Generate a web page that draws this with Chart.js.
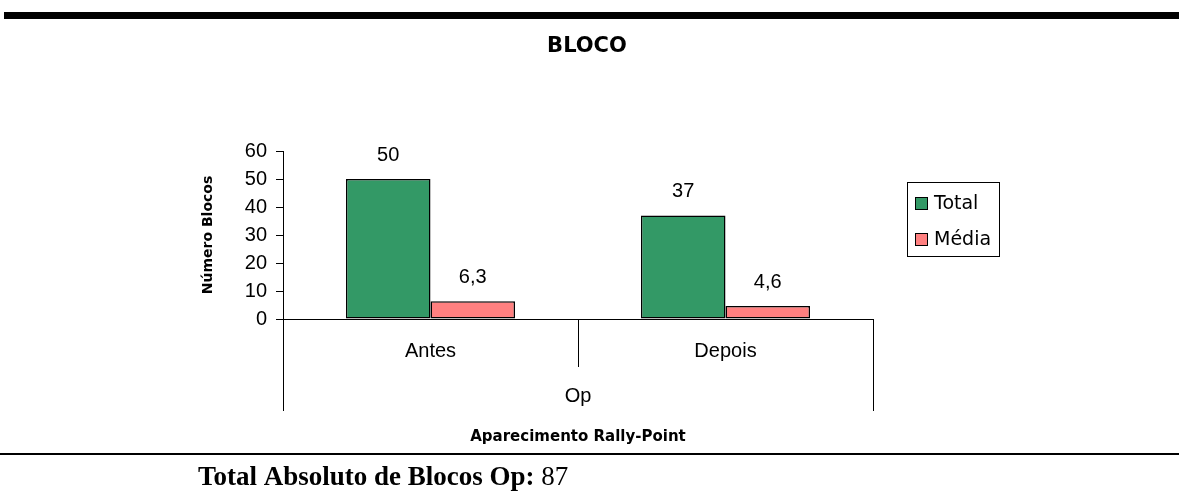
<!DOCTYPE html>
<html>
<head>
<meta charset="utf-8">
<script src="https://cdn.jsdelivr.net/npm/chart.js@4"></script>
<style>
  body { margin: 0; background: #fff; }
  canvas { display: block; }
</style>
</head>
<body>
<canvas id="chart" width="1179" height="502"></canvas>
<script>
  // Chart data
  const categories = ['Antes', 'Depois'];
  const groupLabel = 'Op';
  const totalValues = [50, 37];
  const mediaValues = [6.3, 4.6];
  const seriesNames = ['Total', 'Média'];
  const yTicks = [0, 10, 20, 30, 40, 50, 60];
  const chartTitle = 'BLOCO';
  const yTitle = 'Número Blocos';
  const xTitle = 'Aparecimento Rally-Point';
  const footLabel = 'Total Absoluto de Blocos Op:';
  const footValue = '87';

  const SANS = '"Liberation Sans", Arial, sans-serif';
  const GEO = '"DejaVu Sans", sans-serif';

  const fmt = v => v.toLocaleString('pt-BR');

  // Value labels above each bar
  const valueLabels = {
    id: 'valueLabels',
    afterDatasetsDraw(chart) {
      const ctx = chart.ctx;
      ctx.save();
      ctx.fillStyle = '#000';
      ctx.font = '20px ' + SANS;
      ctx.textAlign = 'center';
      ctx.textBaseline = 'middle';
      chart.data.datasets.forEach((ds, i) => {
        chart.getDatasetMeta(i).data.forEach((bar, j) => {
          ctx.fillText(fmt(ds.data[j]), bar.x, bar.y - 24);
        });
      });
      ctx.restore();
    }
  };

  // Page decorations, multi-level category axis and legend
  const extras = {
    id: 'extras',
    afterDraw(chart) {
      const ctx = chart.ctx;
      const x = chart.scales.x;
      const y = chart.scales.y;
      const bottom = y.getPixelForValue(0);
      ctx.save();
      ctx.fillStyle = '#000';
      ctx.strokeStyle = '#000';

      // top rule
      ctx.fillRect(4, 12, 1175, 7);

      // title
      ctx.font = 'bold 21px ' + GEO;
      ctx.textAlign = 'center';
      ctx.textBaseline = 'middle';
      ctx.fillText(chartTitle, 587, 47);

      // y title
      ctx.save();
      ctx.translate(208, (chart.chartArea.top + chart.chartArea.bottom) / 2);
      ctx.rotate(-Math.PI / 2);
      ctx.font = 'bold 14px ' + GEO;
      ctx.fillText(yTitle, 0, 0);
      ctx.restore();

      // category labels
      ctx.font = '20px ' + SANS;
      categories.forEach((c, i) => {
        ctx.fillText(c, x.getPixelForValue(i), 351);
      });
      ctx.fillText(groupLabel, (x.left + x.right) / 2, 396);

      // category separators
      ctx.lineWidth = 1;
      ctx.beginPath();
      const mid = (x.getPixelForValue(0) + x.getPixelForValue(1)) / 2;
      ctx.moveTo(Math.round(mid) + 0.5, bottom);
      ctx.lineTo(Math.round(mid) + 0.5, 367);
      ctx.moveTo(Math.round(x.left) + 0.5, bottom);
      ctx.lineTo(Math.round(x.left) + 0.5, 411);
      ctx.moveTo(Math.round(x.right) + 0.5, bottom);
      ctx.lineTo(Math.round(x.right) + 0.5, 411);
      ctx.stroke();

      // x title
      ctx.font = 'bold 15px ' + GEO;
      ctx.fillText(xTitle, (x.left + x.right) / 2, 437);

      // bottom rule
      ctx.fillRect(0, 453, 1179, 2);

      // footer text
      ctx.textAlign = 'left';
      ctx.textBaseline = 'alphabetic';
      ctx.font = 'bold 27px "Liberation Serif", "Times New Roman", serif';
      ctx.fillText(footLabel, 198, 485);
      const w = ctx.measureText(footLabel + ' ').width;
      ctx.font = '27px "Liberation Serif", "Times New Roman", serif';
      ctx.fillText(footValue, 198 + w, 485);

      // legend
      ctx.lineWidth = 1;
      ctx.strokeRect(907.5, 182.5, 92, 74);
      const rows = [204, 240];
      ctx.font = '19px ' + GEO;
      ctx.textBaseline = 'middle';
      chart.data.datasets.forEach((ds, i) => {
        ctx.fillStyle = ds.backgroundColor;
        ctx.fillRect(915, rows[i] - 7, 13, 13);
        ctx.strokeRect(915.5, rows[i] - 6.5, 12, 12);
        ctx.fillStyle = '#000';
        ctx.fillText(ds.label, 934, rows[i]);
      });

      ctx.restore();
    }
  };

  new Chart(document.getElementById('chart'), {
    type: 'bar',
    data: {
      labels: categories,
      datasets: [
        {
          label: seriesNames[0],
          data: totalValues,
          backgroundColor: '#339966',
          borderColor: '#000',
          borderWidth: 1.5,
          borderSkipped: false
        },
        {
          label: seriesNames[1],
          data: mediaValues,
          backgroundColor: '#FF8080',
          borderColor: '#000',
          borderWidth: 1.5,
          borderSkipped: false
        }
      ]
    },
    options: {
      responsive: false,
      animation: false,
      categoryPercentage: 0.573,
      barPercentage: 1,
      layout: { padding: { top: 151, right: 306, bottom: 0, left: 0 } },
      plugins: {
        legend: { display: false },
        tooltip: { enabled: false }
      },
      scales: {
        x: {
          grid: { display: false },
          border: { display: true, color: '#000', width: 1 },
          ticks: { display: false },
          afterFit: s => { s.height = 502 - 319; }
        },
        y: {
          min: 0,
          max: 60,
          afterFit: s => { s.width = 283; },
          afterBuildTicks: s => { s.ticks = yTicks.map(v => ({ value: v })); },
          grid: { drawOnChartArea: false, drawTicks: true, tickLength: 7, color: '#000' },
          border: { display: true, color: '#000', width: 1 },
          ticks: {
            padding: 9,
            color: '#000',
            font: { family: '"Liberation Sans", Arial, sans-serif', size: 20 }
          }
        }
      }
    },
    plugins: [valueLabels, extras]
  });
</script>
</body>
</html>
